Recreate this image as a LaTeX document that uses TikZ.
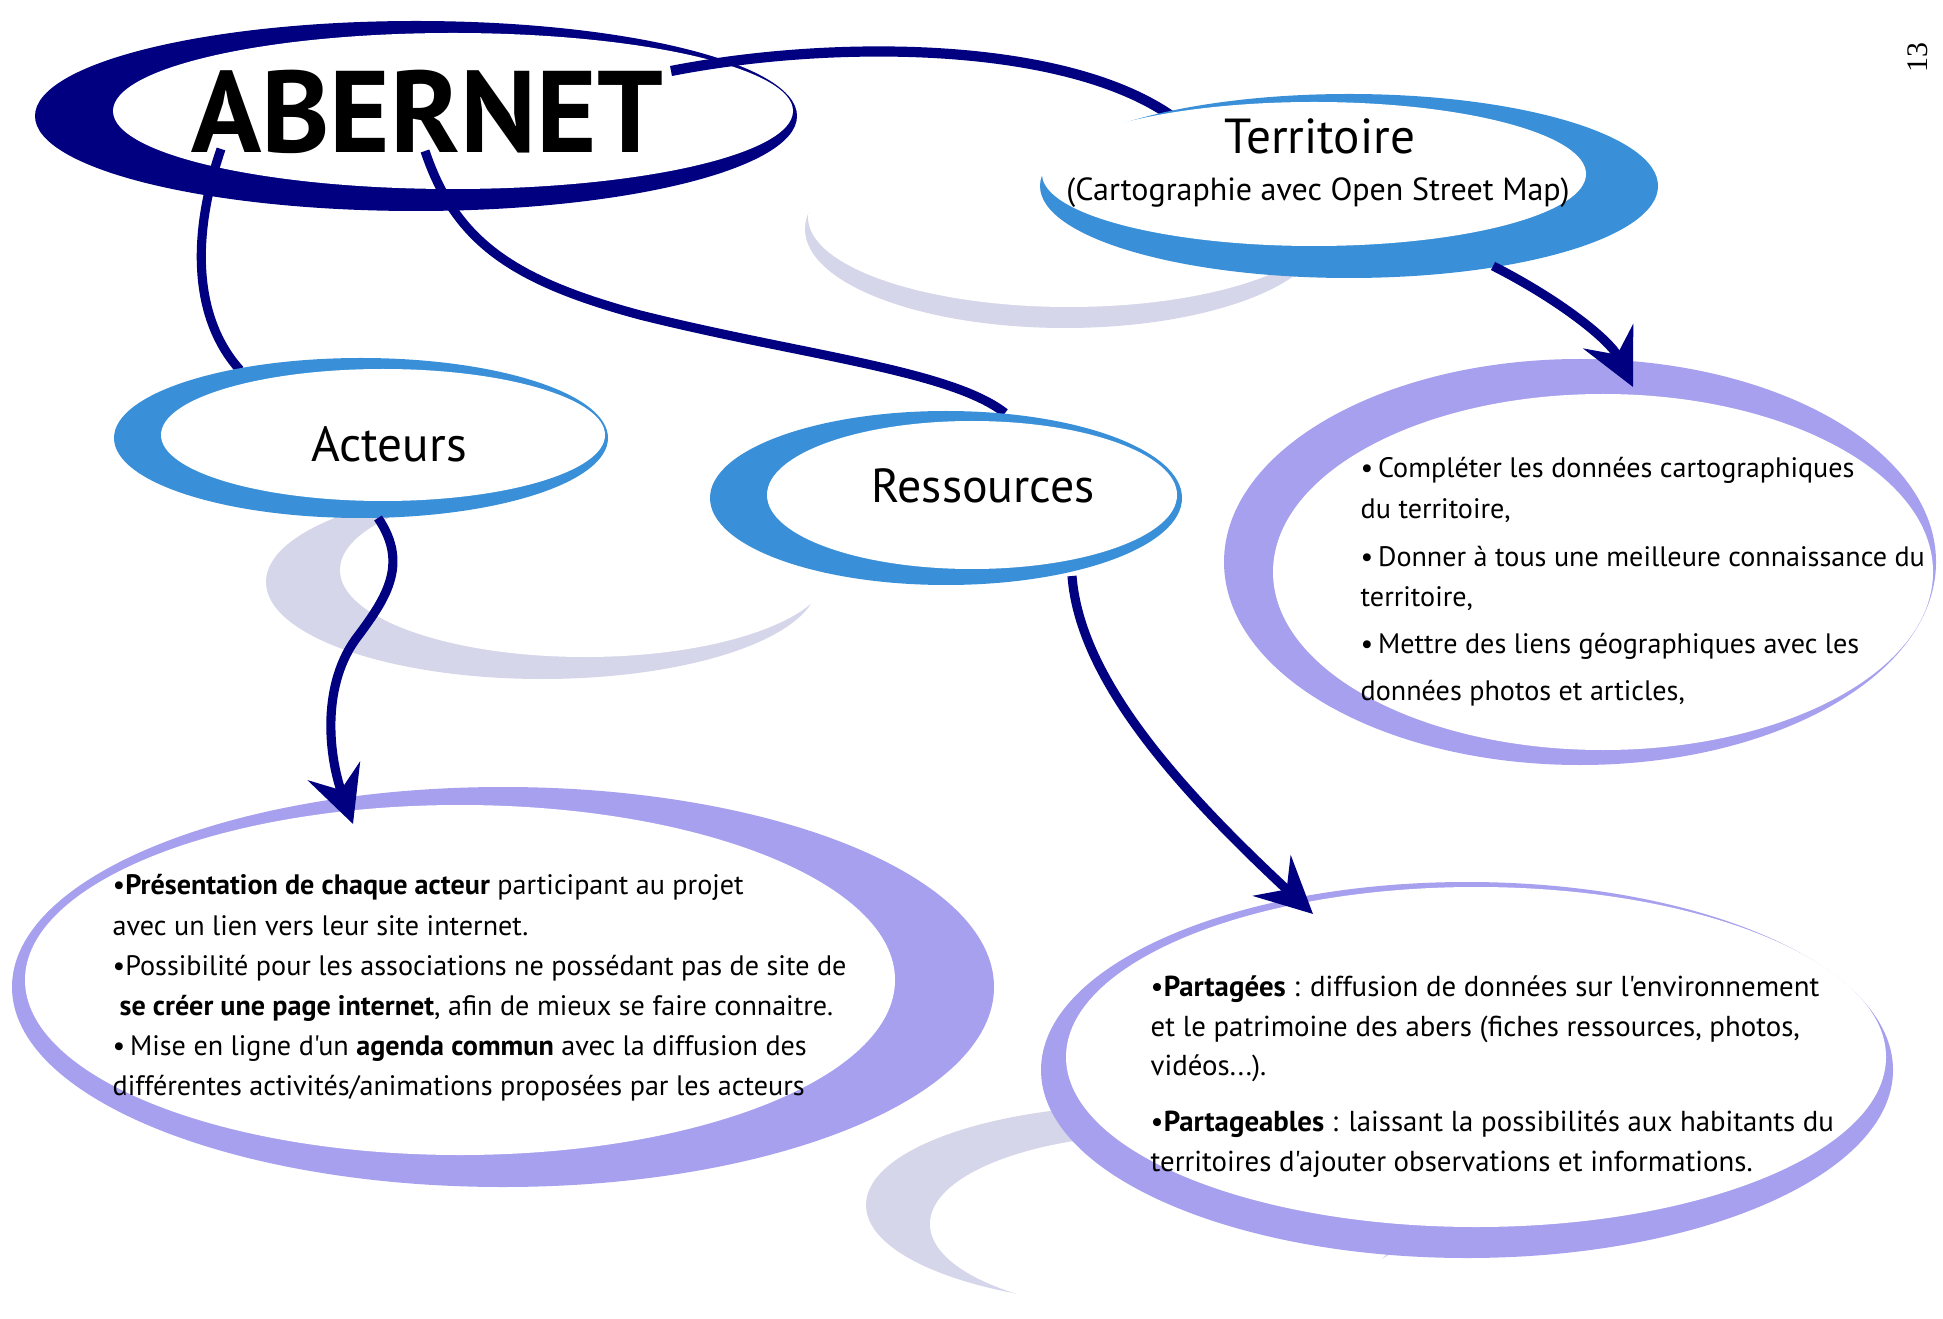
\documentclass[tikz,border=0pt]{standalone}
\usepackage{fontspec}
\setmainfont{PT Sans}[Ligatures=TeXOff]
\newfontfamily\numfont{Liberation Serif}
\usetikzlibrary{arrows.meta}

\definecolor{marine}{RGB}{0,0,128}
\definecolor{bleu}{RGB}{58,144,216}
\definecolor{lavande}{RGB}{166,160,238}
\definecolor{ombre}{RGB}{214,214,234}

\begin{document}
\begin{tikzpicture}[
    x=0.01cm, y=-0.01cm, % 1 unité = 1 pixel, y vers le bas
    >={Stealth[length=0.56cm, width=0.55cm, inset=0.2cm]},
    lien/.style={marine, line width=2.6pt},
    fleche/.style={lien, ->},
    titre/.style={font=\fontsize{14}{16}\selectfont, inner sep=0},
    corps/.style={font=\fontsize{8}{11.4}\selectfont, align=left, inner sep=0, anchor=north west}
]
    \useasboundingbox (0,0) rectangle (1943,1319);
    \clip (0,0) rectangle (1943,1319);

    % 1. ombres grises (croissants) : centre/rayons extérieurs puis intérieurs
    \foreach \ox/\oy/\orx/\ory/\ix/\iy/\irx/\iry in {1065/229/260/99/1069/217/261/90,
                                                 542/582/276/97/585/570/245/87,
                                                 1146/1205/280/100/1165/1224/235/90} {
        \fill[ombre] (\ox,\oy) ellipse [x radius=\orx, y radius=\ory];
        \fill[white] (\ix,\iy) ellipse [x radius=\irx, y radius=\iry];
    }

    % 2. bulle ABERNET
    \fill[marine] (416,116) ellipse [x radius=381, y radius=95];
    \fill[white] (453,111) ellipse [x radius=340, y radius=78];
    \node[font=\fontsize{33}{35}\selectfont\bfseries, inner sep=0] (abernet) at (427,112) {ABERNET};

    % points d'attache des liens
    \coordinate (aberA) at (221,149);
    \coordinate (aberR) at (425,151);
    \coordinate (aberT) at (671,71);
    \coordinate (terrIn) at (1170,115);
    \coordinate (actIn) at (240,370);
    \coordinate (resIn) at (1005,413);
    \coordinate (terrOut) at (1493,266);
    \coordinate (actOut) at (378,518);
    \coordinate (resOut) at (1072,576);
    \coordinate (bulleT) at (1633,387);
    \coordinate (bulleA) at (353,824);
    \coordinate (bulleR) at (1313,914);

    % 3. liens depuis ABERNET (sous les bulles bleues)
    \draw[lien, line width=2.9pt] (aberT) .. controls (830,40) and (1060,40) .. (terrIn);
    \draw[lien] (aberA) .. controls (190,240) and (195,320) .. (actIn);
    \draw[lien] (aberR) .. controls (455,240) and (510,280) .. (640,315)
                        .. controls (800,355) and (950,370) .. (resIn);

    % 4. bulles bleues
    \fill[bleu] (1349,186) ellipse [x radius=309, y radius=92];
    \fill[white] (1314,174) ellipse [x radius=272, y radius=72];
    \node[titre] (territoire) at (1320,136) {Territoire};
    \node[font=\fontsize{9.1}{10}\selectfont, inner sep=0] (osm) at (1318,193) {(Cartographie avec Open Street Map)};

    \fill[bleu] (361,438) ellipse [x radius=247, y radius=80];
    \fill[white] (383,435) ellipse [x radius=222, y radius=66];
    \node[titre] (acteurs) at (389,444) {Acteurs};

    \fill[bleu] (946,498) ellipse [x radius=236, y radius=87];
    \fill[white] (972,495) ellipse [x radius=205, y radius=74];
    \node[titre, font=\fontsize{13.6}{16}\selectfont] (ressources) at (983,486) {Ressources};

    % 5. bulles lavande avec le détail
    \fill[lavande] (1580,562) ellipse [x radius=356, y radius=203];
    \fill[white] (1603,572) ellipse [x radius=330, y radius=178];
    \node[corps] (detailT) at (1360,457) {%
        \textbullet\,Compléter les données cartographiques\\
        du territoire,\\[2.3pt]
        \textbullet\,Donner à tous une meilleure connaissance du\\
        territoire,\\[2pt]
        \textbullet\,Mettre des liens géographiques avec les\\[2pt]
        données photos et articles,};

    \fill[lavande] (503,987) ellipse [x radius=491, y radius=200];
    \fill[white] (460,980) ellipse [x radius=435, y radius=175];
    \node[corps] (detailA) at (112,874) {%
        \textbullet\textbf{Présentation de chaque acteur} participant au projet\\
        avec un lien vers leur site internet.\\
        \textbullet Possibilité pour les associations ne possédant pas de site de\\
        \hspace{2pt}\textbf{se créer une page internet}, afin de mieux se faire connaitre.\\
        \textbullet\,Mise en ligne d'un \textbf{agenda commun} avec la diffusion des\\
        différentes activités/animations proposées par les acteurs};

    \fill[lavande] (1467,1070) ellipse [x radius=426, y radius=188];
    \fill[white] (1476,1057) ellipse [x radius=410, y radius=170];
    \node[corps, font=\fontsize{8.2}{11.3}\selectfont] (detailR) at (1150,975) {%
        \textbullet\textbf{Partagées} : diffusion de données sur l'environnement\\
        et le patrimoine des abers (fiches ressources, photos,\\
        vidéos...).\\[4.5pt]
        \textbullet\textbf{Partageables} : laissant la possibilités aux habitants du\\
        territoires d'ajouter observations et informations.};

    % 6. flèches vers les bulles de détail
    \draw[fleche] (terrOut) .. controls (1560,300) and (1610,340) .. (bulleT);
    \draw[fleche] (actOut) .. controls (410,565) and (385,600) .. (355,640)
                           .. controls (320,690) and (330,760) .. (bulleA);
    \draw[fleche] (resOut) .. controls (1080,680) and (1180,790) .. (bulleR);

    % numéro de page
    \node[font=\numfont\fontsize{8.5}{10}\selectfont, rotate=90, inner sep=0] (page) at (1918,58) {13};
\end{tikzpicture}
\end{document}
